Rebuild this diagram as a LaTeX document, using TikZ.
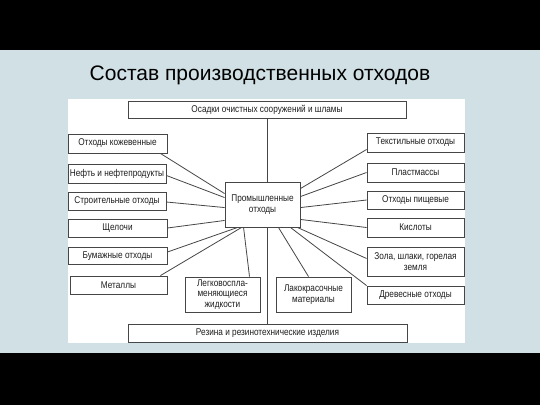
\documentclass[tikz,border=0pt]{standalone}
\usepackage{fontspec}
\setmainfont{Liberation Sans}
\newfontfamily\condfont[FakeStretch=0.84]{Liberation Sans}
\definecolor{slidebg}{RGB}{208,224,228}
\definecolor{linec}{RGB}{70,70,70}
\definecolor{textc}{RGB}{30,30,30}
\tikzset{
  box/.style={draw=linec, line width=0.9pt, fill=white, inner sep=0pt, align=center,
    font=\condfont\fontsize{9.8}{10.6}\selectfont, text=textc},
  conn/.style={draw=linec, line width=0.8pt}
}
\begin{document}
\begin{tikzpicture}[x=1pt,y=-1pt]
\useasboundingbox (0,0) rectangle (540,405);
\fill[black] (0,0) rectangle (540,405);
\fill[slidebg] (0,50) rectangle (540,353);
\fill[white] (68,99) rectangle (465,343);
\node[font=\fontsize{21}{24}\selectfont, text=black] (title) at (260,75) {Состав производственных отходов};
% center and top/bottom
\node[box, minimum width=75pt, minimum height=45pt] (c) at (262.5,204.5) {Промышленные\\отходы};
\node[box, minimum width=278pt, minimum height=17pt] (top) at (267,109.5) {Осадки очистных сооружений и шламы};
\node[box, minimum width=279pt, minimum height=18pt] (bot) at (267.5,333.5) {Резина и резинотехнические изделия};
% left
\node[box, minimum width=99pt, minimum height=19pt] (l1) at (117.5,143.5) {Отходы кожевенные};
\node[box, minimum width=98pt, minimum height=19pt] (l2) at (117,173.5) {Нефть и нефтепродукты};
\node[box, minimum width=98pt, minimum height=18pt] (l3) at (117,201) {Строительные отходы};
\node[box, minimum width=99pt, minimum height=18pt] (l4) at (117.5,228) {Щелочи};
\node[box, minimum width=99pt, minimum height=17pt] (l5) at (117.5,256) {Бумажные отходы};
\node[box, minimum width=97pt, minimum height=18pt] (l6) at (118.5,285) {Металлы};
\node[box, minimum width=75pt, minimum height=35pt] (le) at (222.5,294.5) {Легковоспла-\\меняющиеся\\жидкости};
% right
\node[box, minimum width=97pt, minimum height=19pt] (r1) at (415.5,142.5) {Текстильные отходы};
\node[box, minimum width=97pt, minimum height=19pt] (r2) at (415.5,172.5) {Пластмассы};
\node[box, minimum width=97pt, minimum height=18pt] (r3) at (415.5,200) {Отходы пищевые};
\node[box, minimum width=97pt, minimum height=19pt] (r4) at (415.5,227.5) {Кислоты};
\node[box, minimum width=97pt, minimum height=29pt] (r5) at (415.5,261.5) {Зола, шлаки, горелая\\земля};
\node[box, minimum width=97pt, minimum height=18pt] (r6) at (415.5,295) {Древесные отходы};
\node[box, minimum width=75pt, minimum height=35pt] (la) at (313.5,294.5) {Лакокрасочные\\материалы};
% connectors
\draw[conn] ([xshift=4.5pt]c.north) -- ([xshift=4.5pt]c.north |- top.south);
\draw[conn] ([xshift=4.5pt]c.south) -- ([xshift=4.5pt]c.south |- bot.north);
\draw[conn] ([xshift=-7pt]l1.south east) -- ([yshift=-12pt]c.north west);
\draw[conn] ([yshift=-2pt]l2.east) -- ([yshift=-16pt]c.north west);
\draw[conn] ([yshift=-1pt]l3.east) -- ([yshift=-26pt]c.north west);
\draw[conn] (l4.east) -- ([yshift=7pt]c.south west);
\draw[conn] ([yshift=4pt]l5.east) -- ([xshift=13pt]c.south west);
\draw[conn] ([xshift=-7pt]l6.north east) -- ([xshift=17pt]c.south west);
\draw[conn] ([xshift=27pt]le.north) -- ([xshift=19pt]c.south west);
\draw[conn] ([yshift=-7pt]r1.west) -- ([yshift=-7pt]c.north east);
\draw[conn] (r2.west) -- ([yshift=-15pt]c.north east);
\draw[conn] (r3.west) -- ([yshift=-26pt]c.north east);
\draw[conn] (r4.west) -- ([yshift=8pt]c.south east);
\draw[conn] ([yshift=3pt]r5.west) -- ([xshift=-3pt]c.south east);
\draw[conn] (r6.north west) -- ([xshift=-10pt]c.south east);
\draw[conn] ([xshift=-5pt]la.north) -- ([xshift=-22pt]c.south east);
\end{tikzpicture}
\end{document}
